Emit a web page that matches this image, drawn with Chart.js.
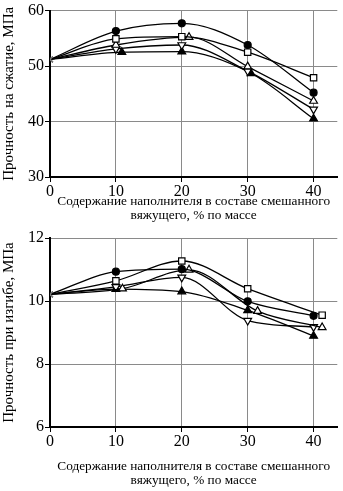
<!DOCTYPE html>
<html lang="ru">
<head>
    <meta charset="UTF-8">
    <title>Прочность</title>
    <script src="https://cdn.jsdelivr.net/npm/chart.js"></script>
    <style>
        body { margin: 0; background: #fff; }
        canvas { display: block; }
    </style>
</head>
<body>
    <canvas id="compChart" width="343" height="225"></canvas>
    <canvas id="bendChart" width="343" height="266"></canvas>

    <script>
        // содержание наполнителя, % (x у маркеров, сдвинутых на рисунке, взяты как есть)
        const xBase = [0, 10, 20, 30, 40];
        const xTicks = [0, 10, 20, 30, 40];

        // прочность на сжатие, МПа
        const compCircle = [51.2, 56.3, 57.7, 53.8, 45.2];
        const compSquare = [51.2, 54.9, 55.3, 52.5, 47.9];
        const compTriUp = [51.2, 53.8, 55.2, 49.9, 43.7];
        const compTriUpX = [0, 10, 21.1, 30, 40];
        const compTriDown = [51.2, 53.1, 53.8, 49.1, 42.2];
        const compTriFill = [51.2, 52.5, 52.6, 48.7, 40.5];
        const compTriFillX = [0, 10.9, 20, 30.5, 40];
        const compTicks = [30, 40, 50, 60];

        // прочность при изгибе, МПа
        const bendCircle = [10.21, 10.93, 11.01, 9.99, 9.53];
        const bendSquare = [10.21, 10.64, 11.27, 10.39, 9.55];
        const bendSquareX = [0, 10, 20, 30, 41.3];
        const bendTriUp = [10.21, 10.39, 10.99, 9.68, 9.16];
        const bendTriUpX = [0, 11, 21.1, 31.5, 41.3];
        const bendTriDown = [10.21, 10.45, 10.75, 9.38, 9.18];
        const bendTriFill = [10.21, 10.38, 10.30, 9.70, 8.89];
        const bendTicks = [6, 8, 10, 12];

        const xTitle = ['Содержание наполнителя в составе смешанного', 'вяжущего, % по массе'];
        const serif = "'Liberation Serif', 'Times New Roman', serif";

        const pts = (xs, ys) => ys.map((y, i) => ({ x: xs[i], y: y }));

        const markers = {
            circle: { pointStyle: 'circle', pointRadius: 3.5, pointBackgroundColor: '#000', pointRotation: 0 },
            square: { pointStyle: 'rect', pointRadius: 4.5, pointBackgroundColor: '#fff', pointRotation: 0 },
            triUp: { pointStyle: 'triangle', pointRadius: 4.5, pointBackgroundColor: '#fff', pointRotation: 0 },
            triDown: { pointStyle: 'triangle', pointRadius: 4.5, pointBackgroundColor: '#fff', pointRotation: 180 },
            triFill: { pointStyle: 'triangle', pointRadius: 4.5, pointBackgroundColor: '#000', pointRotation: 0 }
        };

        const line = (data, m) => ({
            data: data,
            borderColor: '#000',
            borderWidth: 1.3,
            cubicInterpolationMode: 'monotone',
            pointBorderColor: ctx => ctx.dataIndex === 0 ? '#777' : '#000',
            pointBorderWidth: 1.2,
            pointStyle: ctx => ctx.dataIndex === 0 ? 'crossRot' : m.pointStyle,
            pointRadius: ctx => ctx.dataIndex === 0 ? 4 : m.pointRadius,
            pointBackgroundColor: m.pointBackgroundColor,
            pointRotation: ctx => ctx.dataIndex === 0 ? 0 : m.pointRotation
        });

        const makeChart = (id, datasets, yMin, yMax, yTicks, yTitle, xAxisH, topPad, titlePad) => {
            new Chart(document.getElementById(id), {
                type: 'line',
                data: { datasets: datasets },
                options: {
                    responsive: false,
                    animation: false,
                    devicePixelRatio: 1,
                    layout: { padding: { top: topPad, right: 2, left: 0, bottom: 0 } },
                    plugins: { legend: { display: false }, tooltip: { enabled: false } },
                    scales: {
                        x: {
                            type: 'linear',
                            min: 0,
                            max: 43.6,
                            afterBuildTicks: s => { s.ticks = xTicks.map(v => ({ value: v })); },
                            afterFit: s => { s.height = xAxisH; },
                            border: { color: '#000', width: 2 },
                            grid: { color: '#8a8a8a', lineWidth: 1, tickColor: '#000', tickLength: 5 },
                            ticks: { color: '#000', font: { family: serif, size: 16 }, padding: 0, maxRotation: 0 },
                            title: { display: true, text: xTitle, color: '#000', font: { family: serif, size: 13.3, lineHeight: 1.1 }, padding: { top: 0, bottom: titlePad } }
                        },
                        y: {
                            min: yMin,
                            max: yMax,
                            afterBuildTicks: s => { s.ticks = yTicks.map(v => ({ value: v })); },
                            afterFit: s => { s.width = 50; },
                            border: { color: '#000', width: 2 },
                            grid: { color: '#8a8a8a', lineWidth: 1, tickColor: '#000', tickLength: 5 },
                            ticks: { color: '#000', font: { family: serif, size: 16 }, padding: 1 },
                            title: { display: true, text: yTitle, color: '#000', font: { family: serif, size: 15 }, padding: { top: 0, bottom: 0 } }
                        }
                    }
                }
            });
        };

        makeChart('compChart', [
            line(pts(xBase, compCircle), markers.circle),
            line(pts(xBase, compSquare), markers.square),
            line(pts(compTriUpX, compTriUp), markers.triUp),
            line(pts(xBase, compTriDown), markers.triDown),
            line(pts(compTriFillX, compTriFill), markers.triFill)
        ], 30, 60, compTicks, 'Прочность на сжатие, МПа', 48, 9, 2);

        makeChart('bendChart', [
            line(pts(xBase, bendCircle), markers.circle),
            line(pts(bendSquareX, bendSquare), markers.square),
            line(pts(bendTriUpX, bendTriUp), markers.triUp),
            line(pts(xBase, bendTriDown), markers.triDown),
            line(pts(xBase, bendTriFill), markers.triFill)
        ], 6, 12, bendTicks, 'Прочность при изгибе, МПа', 64, 13, 3);
    </script>
</body>
</html>
